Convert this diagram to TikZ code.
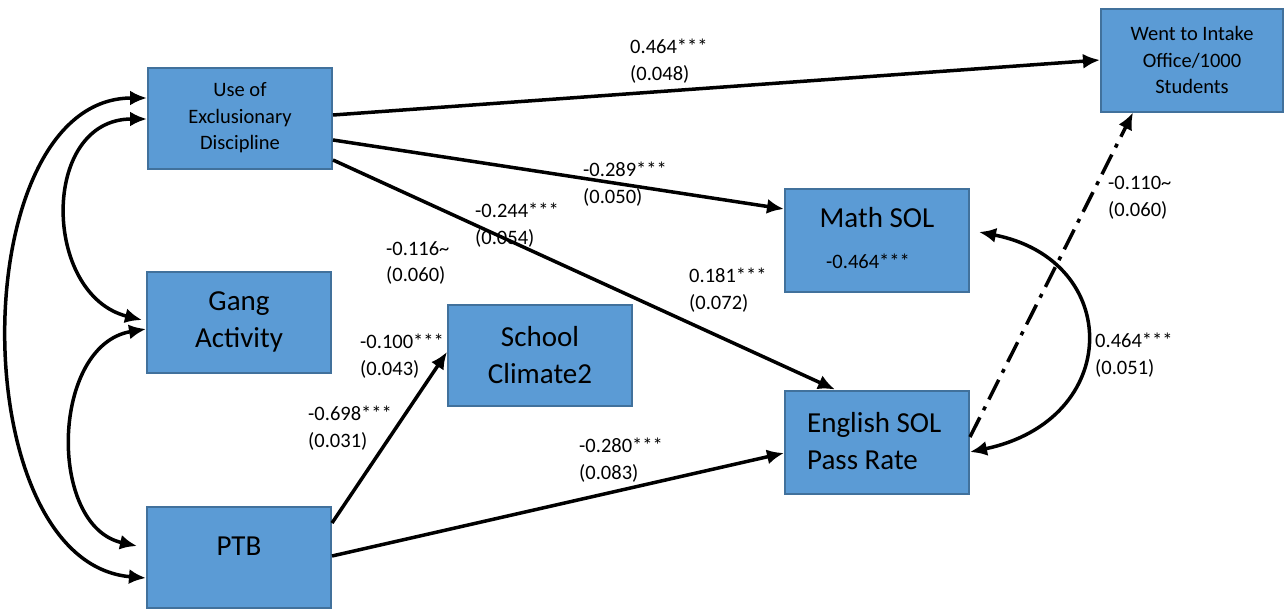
\documentclass[tikz,border=0pt]{standalone}
\usepackage{fontspec}
\setmainfont{Carlito}
\usetikzlibrary{arrows.meta,calc}
\definecolor{boxfill}{HTML}{5B9BD5}
\definecolor{boxline}{HTML}{41719C}
\begin{document}
\begin{tikzpicture}[x=1pt,y=-1pt,
  box/.style={draw=boxline,fill=boxfill,line width=2pt,minimum width=184pt,minimum height=101pt,inner sep=0pt},
  small/.style={font=\fontsize{20.5}{26.5}\selectfont},
  big/.style={font=\fontsize{29}{36.5}\selectfont},
  lab/.style={small,align=left,anchor=west,inner sep=0pt},
  tip/.tip={Latex[length=17pt,width=15pt]},
  conn/.style={line width=3.5pt,-tip},
  both/.style={line width=3.5pt,tip-tip},
]
\useasboundingbox (0,0) rectangle (1284,608);
\fill[white] (0,0) rectangle (1284,608);

% boxes
\node[box,small,align=center] (use) at (240,118) {Use of\\Exclusionary\\Discipline};
\node[box,big,align=center] (gang) at (239,322) {Gang\\Activity};
\node[box] (ptb) at (239,557) {};
\node[big] (ptbtxt) at (239,546) {PTB};
\node[box,big,align=center] (school) at (540,355) {School\\Climate2};
\node[box,minimum height=103pt] (math) at (877,240) {};
\node[big] (mathtxt) at (877,218) {Math SOL};
\node[small,anchor=west,inner sep=0pt] (mathcoef) at (826,261) {-0.464***};
\node[box,minimum height=103pt] (eng) at (877,442) {};
\node[big,align=left,anchor=west,inner sep=0pt] (engtxt) at (807,441) {English SOL\\Pass Rate};
\node[box,small,align=center,minimum width=182pt,minimum height=103pt] (intake) at (1192,60) {Went to Intake\\Office/1000\\Students};

% directed paths
\draw[conn] ([yshift=3pt]use.east) -- (intake.west);
\draw[conn] ([yshift=-22pt]use.east) -- ([yshift=31pt]math.west);
\draw[conn] ([yshift=-42pt]use.east) -- ([xshift=-42pt]eng.north);
\draw[conn] ([yshift=34pt]ptb.east) -- ([yshift=3pt]school.west);
\draw[conn] ([yshift=1pt]ptb.east) -- ([yshift=-11pt]eng.west);
\draw[conn,dash pattern=on 22pt off 8pt on 4pt off 8pt] ([yshift=5pt]eng.east) -- ([xshift=-59pt]intake.south);

% covariances
\draw[both] ([xshift=9pt,yshift=8pt]math.east) .. controls +(144,28) and +(153,-32) .. ([yshift=-10pt]eng.east);
\draw[both] ([yshift=20pt]use.west) .. controls +(-184,0) and +(-184,-15) .. ([yshift=-21pt]ptb.west);
\draw[both] ([yshift=-1pt]use.west) .. controls +(-107,0) and +(-100,-25) .. ([xshift=-4pt,yshift=2pt]gang.west);
\draw[both] ([yshift=-7pt]gang.west) .. controls +(-95,16) and +(-90,-20) .. ([xshift=-9pt,yshift=11pt]ptb.west);

% labels
\node[lab] (l1) at (630,61) {0.464***\\(0.048)};
\node[lab] (l2) at (583,184) {-0.289***\\(0.050)};
\node[lab] (l3) at (475,225) {-0.244***\\(0.054)};
\node[lab] (l4) at (386,263) {-0.116\textasciitilde\\(0.060)};
\node[lab] (l5) at (689,290) {0.181***\\(0.072)};
\node[lab] (l6) at (360,356) {-0.100***\\(0.043)};
\node[lab] (l7) at (308,428) {-0.698***\\(0.031)};
\node[lab] (l8) at (579,460) {-0.280***\\(0.083)};
\node[lab] (l9) at (1108,198) {-0.110\textasciitilde\\(0.060)};
\node[lab] (l10) at (1095,355) {0.464***\\(0.051)};
\end{tikzpicture}
\end{document}
